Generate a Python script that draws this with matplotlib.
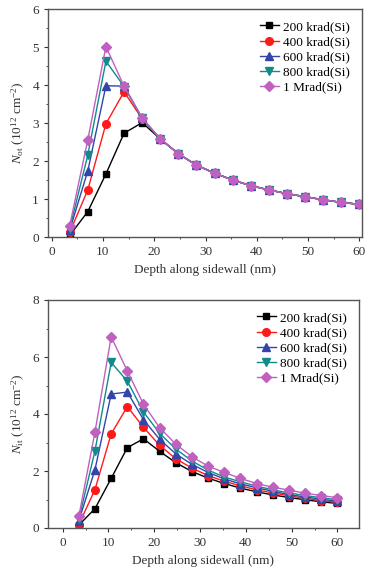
import matplotlib
matplotlib.use("Agg")
import matplotlib.pyplot as plt
from matplotlib.ticker import MultipleLocator

plt.rcParams['font.family'] = ['Liberation Serif', 'DejaVu Serif']
plt.rcParams['mathtext.fontset'] = 'custom'
plt.rcParams['mathtext.rm'] = 'Liberation Serif'
plt.rcParams['mathtext.it'] = 'Liberation Serif:italic'

depth = [3.53, 7.06, 10.59, 14.12, 17.65, 21.18, 24.71, 28.24, 31.76,
         35.29, 38.82, 42.35, 45.88, 49.41, 52.94, 56.47, 60.0]
labels = ['200 krad(Si)', '400 krad(Si)', '600 krad(Si)', '800 krad(Si)', '1 Mrad(Si)']

# N_ot, shared tail after ~20 nm
tail_ot = [2.58, 2.19, 1.89, 1.68, 1.50, 1.35, 1.24, 1.14, 1.06, 0.98, 0.91, 0.86]
not_200 = [0.04, 0.67, 1.66, 2.73, 3.01] + tail_ot
not_400 = [0.12, 1.24, 2.98, 3.82, 3.11] + tail_ot
not_600 = [0.18, 1.74, 3.98, 3.97, 3.12] + tail_ot
not_800 = [0.22, 2.16, 4.63, 3.96, 3.13] + tail_ot
not_1m = [0.30, 2.56, 5.01, 3.97, 3.13] + tail_ot

# N_it
nit_200 = [0.10, 0.68, 1.74, 2.82, 3.13, 2.69, 2.29, 1.98, 1.75, 1.56, 1.40, 1.27, 1.16, 1.07, 0.99, 0.92, 0.86]
nit_400 = [0.12, 1.35, 3.30, 4.26, 3.53, 2.90, 2.43, 2.10, 1.84, 1.64, 1.48, 1.34, 1.23, 1.13, 1.04, 0.96, 0.90]
nit_600 = [0.25, 2.05, 4.70, 4.77, 3.80, 3.11, 2.60, 2.23, 1.95, 1.72, 1.55, 1.41, 1.29, 1.17, 1.09, 1.01, 0.94]
nit_800 = [0.30, 2.71, 5.81, 5.15, 4.07, 3.32, 2.77, 2.35, 2.03, 1.79, 1.62, 1.47, 1.34, 1.23, 1.14, 1.06, 0.99]
nit_1m = [0.41, 3.37, 6.71, 5.51, 4.34, 3.52, 2.94, 2.50, 2.17, 1.95, 1.74, 1.56, 1.43, 1.33, 1.22, 1.14, 1.06]

colors = ['#000000', '#ff1a1a', '#3344aa', '#128a8a', '#c060c0']
markers = ['s', 'o', '^', 'v', 'D']
msizes = [5, 5.5, 5.5, 5.5, 5]


def draw(ax, series, ylabel):
    for y, lab, c, m, ms in zip(series, labels, colors, markers, msizes):
        ax.plot(depth, y, color=c, marker=m, markersize=ms, markeredgecolor=c,
                linewidth=1.0, label=lab)
    ax.set_xlabel('Depth along sidewall (nm)', fontsize=9.5, color='#333333')
    ax.set_ylabel(ylabel, fontsize=9.5, color='#333333')
    ax.xaxis.set_major_locator(MultipleLocator(10))
    ax.xaxis.set_minor_locator(MultipleLocator(5))
    ax.tick_params(which='both', direction='out', labelsize=9.5,
                   colors='#333333', top=False, right=False)
    ax.tick_params(which='major', length=3)
    ax.tick_params(which='minor', length=1.5)
    for s in ax.spines.values():
        s.set_color('#555555')
        s.set_linewidth(1.0)
    ax.legend(loc='upper right', frameon=False, fontsize=9.5, handlelength=1.5,
              handletextpad=0.3, labelspacing=0.22, borderaxespad=0.5)


fig = plt.figure(figsize=(3.74, 5.74), dpi=100)
ax1 = fig.add_axes([48 / 374, 1 - 237 / 574, 314 / 374, 228 / 574])
ax2 = fig.add_axes([48 / 374, 1 - 528 / 574, 311 / 374, 228 / 574])

draw(ax1, [not_200, not_400, not_600, not_800, not_1m],
     r'$N_{\mathrm{ot}}$ (10$^{12}$ cm$^{-2}$)')
ax1.set_xlim(-0.7, 60.5)
ax1.set_ylim(0, 6)
ax1.yaxis.set_major_locator(MultipleLocator(1))
ax1.yaxis.set_minor_locator(MultipleLocator(0.5))

draw(ax2, [nit_200, nit_400, nit_600, nit_800, nit_1m],
     r'$N_{\mathrm{it}}$ (10$^{12}$ cm$^{-2}$)')
ax2.set_xlim(-3.2, 64.7)
ax2.set_ylim(0, 8)
ax2.yaxis.set_major_locator(MultipleLocator(2))
ax2.yaxis.set_minor_locator(MultipleLocator(1))

fig.savefig('out.png', dpi=100)
